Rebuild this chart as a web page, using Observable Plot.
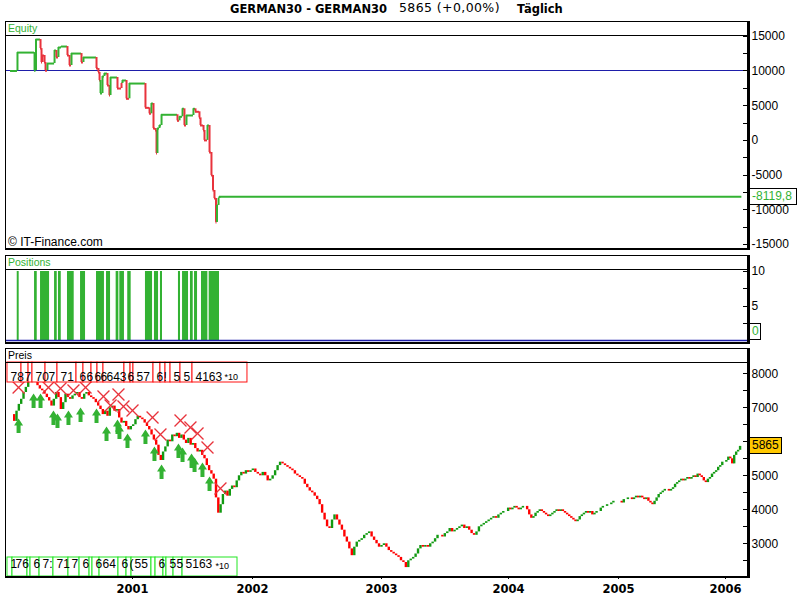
<!DOCTYPE html>
<html><head><meta charset="utf-8">
<script src="https://cdn.jsdelivr.net/npm/d3@7"></script>
<script src="https://cdn.jsdelivr.net/npm/@observablehq/plot@0.6"></script>
<style>
body{margin:0;background:#fff;}
#root{position:relative;width:800px;height:600px;overflow:hidden;background:#fff;font-family:"Liberation Sans",Arial,sans-serif;}
#root svg{display:block;}
.preis [aria-label^="x-axis"] text{font-family:"DejaVu Sans",sans-serif;font-weight:bold;font-size:11.5px;}
</style></head><body><div id="root"></div>
<script>
// ---------- DATA ----------
// x positions are decimal years
const YEARS = [2001, 2002, 2003, 2004, 2005, 2006];
// weekly closes (Fridays)
const c2000 = [6800,6600,6900,7100,7250,7450,7600,7750,7850,7950,7800,7650,7550,7500,7400,7300,7200,7050,7250,7450,7300,6950,7150,7400,7300,7250,7350,7400,7450,7300,7250,7400,7450,7350,7300,7250,7150,7050,6950,6800,6900,6750,7000,7050,6900,6950,6700,6550,6600,6450,6350,6450];
const c2001 = [6500,6650,6750,6700,6650,6550,6450,6350,6200,6050,5900,5600,5450,5700,5850,6050,6000,6200,6150,6250,6100,6200,6050,5950,6100,5900,5950,5800,5700,5750,5600,5500,5300,5150,5050,4900,4350,3900,4150,4450,4550,4400,4600,4700,4650,4850,5000,5100,5050,5150,5100,5150];
const c2002 = [5200,5100,5050,5000,5100,5000,4850,4900,5000,5150,5300,5400,5350,5300,5250,5200,5150,5050,5000,4950,4900,4750,4650,4550,4500,4400,4300,4150,3900,3700,3500,3450,3700,3850,3700,3550,3400,3200,3050,2850,2650,2900,3050,3100,3150,3250,3300,3350,3200,3100,3000,2900];
const c2003 = [2950,3000,2900,2800,2750,2700,2650,2600,2500,2450,2300,2500,2550,2600,2700,2850,2950,2900,2950,2900,3000,3050,3150,3250,3250,3200,3300,3350,3450,3350,3400,3450,3500,3550,3450,3500,3400,3300,3250,3350,3500,3550,3600,3650,3700,3750,3800,3750,3850,3900,3950,3950];
const c2004 = [4050,4000,4050,4100,4050,4000,4050,4100,4100,4000,3850,3750,3800,3900,3950,4000,3950,3900,3850,3800,3850,3900,3950,4000,3950,4000,3950,3900,3850,3800,3750,3700,3650,3700,3800,3850,3900,3950,3900,3950,3850,3900,3950,3950,4050,4100,4100,4150,4150,4200,4250,4250,4250];
const c2005 = [4250,4200,4300,4300,4350,4350,4300,4350,4400,4350,4400,4350,4300,4350,4250,4200,4150,4250,4350,4450,4500,4550,4600,4600,4550,4600,4650,4750,4800,4850,4900,4850,4900,4950,4900,4950,5000,4950,5050,5000,4950,4850,4800,4900,4950,5050,5100,5150,5250,5300,5400,5400];
const c2006 = [5450,5550,5500,5350,5600,5700,5750,5865];

// equity curve: step points (decimal year, value, colour of the move)
const eqX = [2000.000,2000.057,2000.197,2000.209,2000.246,2000.254,2000.262,2000.279,2000.287,2000.303,2000.361,2000.377,2000.393,2000.418,2000.467,2000.484,2000.500,2000.582,2000.598,2000.705,2000.721,2000.730,2000.738,2000.754,2000.770,2000.795,2000.811,2000.820,2000.877,2000.910,2000.918,2000.951,2000.975,2001.108,2001.142,2001.158,2001.175,2001.192,2001.200,2001.208,2001.225,2001.242,2001.375,2001.392,2001.417,2001.433,2001.450,2001.508,2001.525,2001.558,2001.567,2001.592,2001.600,2001.625,2001.642,2001.658,2001.671,2001.683,2001.696,2001.704,2001.717,2001.725];
const eqV = [10000,12650,10050,14530,13230,11220,12230,11220,10050,11070,12950,11940,13380,13520,12230,10790,12510,11220,11940,10350,9780,8630,6750,9200,9630,7910,6470,9060,7470,8190,8630,5990,8190,4690,3830,5310,1710,1430,-1890,1710,2150,3690,2820,3400,4550,2150,3590,4550,4120,3250,2150,1430,0,2150,-1740,-5050,-7210,-8370,-11820,-9370,-8370,-8119.8];
const eqC = "gggg rrrrr gg r gg rr g r g rrr ggg rr g rr g r g rr g rrr g gg r gg r gg rrrrr g rrrrr ggg".replace(/ /g,"").split("");
const eqEnd = 2006.16;

// positions (trade intervals) and size
const posStart = [2000.055,2000.197,2000.246,2000.361,2000.393,2000.467,2000.574,2000.705,2000.787,2000.866,2000.896,2000.961,2001.108,2001.183,2001.233,2001.383,2001.417,2001.483,2001.517,2001.575,2001.639];
const posEnd   = [2000.071,2000.219,2000.320,2000.383,2000.416,2000.522,2000.615,2000.770,2000.820,2000.888,2000.934,2000.989,2001.167,2001.217,2001.250,2001.400,2001.467,2001.506,2001.542,2001.628,2001.725];
const posSize = 10;

// buy signals (arrows) and exits (crosses)
const buyX = [2000.066,2000.189,2000.246,2000.352,2000.385,2000.475,2000.574,2000.705,2000.787,2000.877,2000.893,2000.959,2001.108,2001.183,2001.242,2001.383,2001.417,2001.492,2001.517,2001.583,2001.642];
const buyP = [6685,7421,7421,6921,6832,6921,7009,6979,6450,6656,6509,6244,6362,5862,5332,5950,5832,5656,5538,5391,4979];
const sellX = [2000.066,2000.311,2000.410,2000.516,2000.615,2000.762,2000.820,2000.885,2000.926,2001.000,2001.167,2001.233,2001.400,2001.483,2001.542,2001.625,2001.733];
const sellP = [7597,7597,7568,7509,7597,7332,7068,7391,7038,6921,6715,6215,6626,6421,6244,5832,4626];

// trade label boxes (visible text)
const topL = [1999.975,2000.090,2000.148,2000.180,2000.287,2000.385,2000.541,2000.598,2000.664,2000.713,2000.762,2000.934,2000.984,2001.008,2001.175,2001.233,2001.275,2001.317,2001.400,2001.500];
const topEnd = 2001.958;
const topT = ["78","7","","70","7","71","6","6","6","6","643","6","","57","6","!","","5","5","4163"];
const botL = [1999.975,2000.016,2000.139,2000.164,2000.238,2000.352,2000.475,2000.566,2000.648,2000.672,2000.730,2000.885,2000.951,2000.992,2001.158,2001.192,2001.258,2001.283,2001.342,2001.417];
const botEnd = 2001.875;
const botT = ["1","76","","6","7:","71","7","6","","6","64","6","(","55","","6","","5","5","5163"];

const lastPrice = 5865;
const title1 = "GERMAN30 - GERMAN30", title2 = "5865 (+0,00%)", title3 = "Täglich";

// ---------- LAYOUT ----------
const GREEN="#33b233", RED="#e8333c", UP="#129a12", DN="#ff0000", BLUE="#1e1eaa", BOXR="#ff1010", BOXG="#22e622";
const FONT='"Liberation Sans", Arial, sans-serif';
// time axis of the source is uneven per year: piecewise mapping year -> horizontal coordinate
const XD = [1999.967, 2001, 2002, 2003, 2004, 2005, 2006, 2006.215];
const XR = [6, 132, 252, 381, 508, 618, 725, 747];
const tx = d3.scaleLinear().domain(XD).range(XR);
const ML = 6, MR = 53, TICKIN = 800 - MR - ML - 4;
const XS = {domain:[0,800], range:[0,800], axis:null};

const root = document.getElementById("root");
function rect(l,t,w,h,bg){const d=document.createElement("div");d.style.cssText=`position:absolute;left:${l}px;top:${t}px;width:${w}px;height:${h}px;background:${bg}`;root.appendChild(d);return d;}
function txt(l,t,s,css){const d=document.createElement("div");d.textContent=s;d.style.cssText=`position:absolute;left:${l}px;top:${t}px;white-space:pre;${css}`;root.appendChild(d);return d;}
function place(svg, top, cls){const w=document.createElement("div");w.className=cls||"";w.style.cssText=`position:absolute;left:0;top:${top}px;width:800px`;w.appendChild(svg);root.appendChild(w);return w;}
const baseStyle = {background:"none", fontFamily:FONT, fontSize:"12px", overflow:"visible"};
const fmt = d => String(d);

// ----- Equity -----
const eqPts = eqX.map((x,i)=>({x:tx(x), v:eqV[i], c:eqC[i]}));
const eqH = eqPts.map((p,i)=>({x1:p.x, x2: i<eqPts.length-1 ? eqPts[i+1].x : tx(eqEnd), y:p.v, c: i===0 ? "g" : p.c}));
const eqVt = eqPts.slice(1).map((p,i)=>({x:p.x, y1:eqPts[i].v, y2:p.v, c:p.c}));
const eqPlot = Plot.plot({
  width:800, height:230, marginTop:14, marginBottom:2, marginLeft:ML, marginRight:MR,
  style: baseStyle,
  x: XS,
  y:{domain:[-15714,15110], axis:"right", ticks:[-15000,-10000,-5000,0,5000,10000,15000], tickSize:0, tickPadding:4, tickFormat:fmt, label:null},
  marks:[
    Plot.ruleY([10000], {stroke:BLUE, strokeWidth:1, shapeRendering:"crispEdges"}),
    Plot.ruleY(d3.range(-15000,15001,2500), {insetLeft:TICKIN, stroke:"#000", shapeRendering:"crispEdges"}),
    Plot.ruleY(eqH, {x1:"x1", x2:"x2", y:"y", stroke:d=>d.c==="r"?RED:GREEN, strokeWidth:2}),
    Plot.ruleX(eqVt, {x:"x", y1:"y1", y2:"y2", stroke:d=>d.c==="r"?RED:GREEN, strokeWidth:2})
  ]
});
place(eqPlot, 21);

// ----- Positions -----
const trades = posStart.map((a,i)=>({a:tx(a), b:tx(posEnd[i]), s:posSize}));
const posPlot = Plot.plot({
  width:800, height:89, marginTop:14, marginBottom:3, marginLeft:ML, marginRight:MR,
  style: baseStyle,
  x: XS,
  y:{domain:[-0.14,10.29], axis:"right", ticks:[5,10], tickSize:0, tickPadding:4, tickFormat:fmt, label:null},
  marks:[
    Plot.rect(trades, {x1:"a", x2:"b", y1:0, y2:"s", fill:GREEN}),
    Plot.ruleY([0], {stroke:BLUE, strokeWidth:1.5}),
    Plot.ruleY([2.5,5,7.5,10], {insetLeft:TICKIN, stroke:"#000", shapeRendering:"crispEdges"})
  ]
});
place(posPlot, 255);

// ----- Preis -----
const closes = [...c2000,...c2001,...c2002,...c2003,...c2004,...c2005,...c2006];
const fridays = d3.utcFriday.range(new Date(Date.UTC(2000,0,1)), new Date(Date.UTC(2006,1,25)));
function dec(d){const y=d.getUTCFullYear();const a=Date.UTC(y,0,1),b=Date.UTC(y+1,0,1);return y+(d-a)/(b-a);}
const bars = closes.map((c,i)=>({x: tx(dec(new Date(+fridays[Math.min(i,fridays.length-1)] - 2*864e5))), o: i ? closes[i-1] : c, c}));
const buys = buyX.map((x,i)=>({x:tx(x), p:buyP[i]}));
const sells = sellX.map((x,i)=>({x:tx(x), p:sellP[i]}));
const topBoxes = topL.map((x,i)=>({x1:tx(x), x2: tx(i<topL.length-1 ? topL[i+1] : topEnd), t:topT[i]}));
const botBoxes = botL.map((x,i)=>({x1:tx(x), x2: tx(i<botL.length-1 ? botL[i+1] : botEnd), t:botT[i]}));
const ARROW = {draw(ctx){ctx.moveTo(0,0);ctx.lineTo(4.5,7);ctx.lineTo(2,7);ctx.lineTo(2,14.5);ctx.lineTo(-2,14.5);ctx.lineTo(-2,7);ctx.lineTo(-4.5,7);ctx.closePath();}};
const FH = 252-14-24;
const prPlot = Plot.plot({
  width:800, height:252, marginTop:14, marginBottom:24, marginLeft:ML, marginRight:MR,
  style: baseStyle,
  x:{domain:[0,800], range:[0,800], ticks:YEARS.map(tx), tickFormat:d=>String(Math.round(tx.invert(d))), tickSize:3, tickPadding:5, label:null},
  y:{domain:[2038,8332], axis:"right", ticks:[3000,4000,5000,7000,8000], tickSize:0, tickPadding:4, tickFormat:fmt, label:null},
  marks:[
    Plot.ruleX(bars, {x:"x", y1:"o", y2:"c", stroke:d=>d.c>=d.o?UP:DN, strokeWidth:2.4}),
    Plot.ruleY(d3.range(2500,8001,500), {insetLeft:TICKIN, stroke:"#000", shapeRendering:"crispEdges"}),
    Plot.dot(buys, {x:"x", y:"p", symbol:ARROW, r:5, fill:GREEN, stroke:"none"}),
    Plot.dot(sells, {x:"x", y:"p", symbol:"times", r:5.5, fill:"none", stroke:RED, strokeWidth:1.3}),
    Plot.rect(topBoxes, {x1:"x1", x2:"x2", insetBottom:FH-20, fill:"white", stroke:BOXR, strokeWidth:1}),
    Plot.text(topBoxes, {x:"x1", text:"t", frameAnchor:"top", dy:10, dx:3, textAnchor:"start", fontSize:12, fill:"#000"}),
    Plot.text(topBoxes.slice(-1), {x:"x1", text:()=>"*10", frameAnchor:"top", dy:11, dx:32, textAnchor:"start", fontSize:9, fill:"#000"}),
    Plot.rect(botBoxes, {x1:"x1", x2:"x2", insetTop:FH-19, fill:"white", stroke:BOXG, strokeWidth:1}),
    Plot.text(botBoxes, {x:"x1", text:"t", frameAnchor:"bottom", dy:-9, dx:3, textAnchor:"start", fontSize:12, fill:"#000"}),
    Plot.text(botBoxes.slice(-1), {x:"x1", text:()=>"*10", frameAnchor:"bottom", dy:-8, dx:33, textAnchor:"start", fontSize:9, fill:"#000"})
  ]
});
place(prPlot, 348, "preis");

// ---------- CHROME ----------
function chrome(top, bottomTop, label, color, labelTop){
  rect(5, top, 742, 1, "#000");
  rect(5, top, 1, bottomTop-top, "#000");
  rect(5, top+14, 742, 1, "#000");
  rect(747, top, 3, bottomTop+2-top, "#000");
  rect(5, bottomTop, 745, 2, "#000");
  txt(8, labelTop, label, `font:10.5px/12px ${FONT};color:${color}`);
}
chrome(21, 248, "Equity", GREEN, 22);
chrome(255, 342, "Positions", GREEN, 256);
chrome(348, 576, "Preis", "#000", 349);
txt(8, 235, "© IT-Finance.com", `font:12px/14px ${FONT};color:#000`);

function valBox(l, w, cy, s, color, bg){
  return txt(l, Math.round(cy-8.5), s, `width:${w}px;height:17px;box-sizing:border-box;border:1px solid #000;background:${bg};color:${color};font:12px/15px ${FONT};padding-left:2px;`);
}
function sy(plot, v, top, fallback){ try { return plot.scale("y").apply(v) + top; } catch(e){ return fallback; } }
valBox(749, 48, sy(eqPlot, eqV[eqV.length-1], 21, 196), String(eqV[eqV.length-1]).replace(".", ","), GREEN, "#fff");
valBox(749, 12, sy(posPlot, 0, 255, 340) - 8.5, "0", GREEN, "#fff");
valBox(749, 33, sy(prPlot, lastPrice, 348, 446), String(lastPrice), "#000", "#ffc800");

// title
txt(230, 2, title1, `font:bold 11.5px/14px "DejaVu Sans",sans-serif;color:#000`);
txt(399, 1, title2, `font:12.5px/14px "DejaVu Sans",sans-serif;letter-spacing:0.4px;color:#000`);
txt(517, 2, title3, `font:bold 11.5px/14px "DejaVu Sans",sans-serif;color:#000`);
</script></body></html>
